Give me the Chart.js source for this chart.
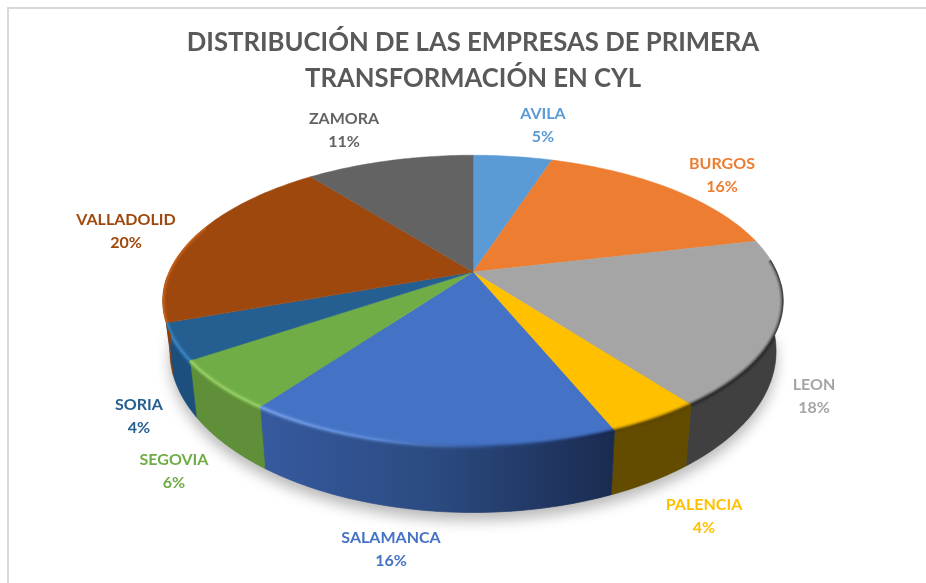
<!DOCTYPE html>
<html>
<head>
<meta charset="utf-8">
<style>
html,body{margin:0;padding:0;background:#fff;overflow:hidden}
#wrap{position:relative;width:926px;height:583px}
#frame{position:absolute;left:7px;top:7px;right:-5px;bottom:-5px;border-left:2px solid #d9d9d9;border-top:2px solid #d9d9d9}
canvas{position:absolute;left:0;top:0}
</style>
<script src="https://cdn.jsdelivr.net/npm/chart.js@4/dist/chart.umd.min.js"></script>
</head>
<body>
<div id="wrap"><div id="frame"></div><canvas id="c" width="926" height="583"></canvas></div>
<script>
const titleLines = ['DISTRIBUCIÓN DE LAS EMPRESAS DE PRIMERA', 'TRANSFORMACIÓN EN CYL'];
const provinces = ['AVILA','BURGOS','LEON','PALENCIA','SALAMANCA','SEGOVIA','SORIA','VALLADOLID','ZAMORA'];
const shares = [5.0,16.3,18.4,4.1,16.2,5.5,4.0,19.9,10.6];
const sliceColors = ['#5B9BD5','#ED7D31','#A5A5A5','#FFC000','#4472C4','#70AD47','#255E91','#9E480E','#636363'];

// Styling and layout of the drawing, separate from the data
const wallStops = [['#3a6a98'],['#8a4a1c'],['#404040'],['#634c00'],['#365a9f','#2b4a80','#1a2b50'],['#5f8f38'],['#1c4f7d'],['#8a3f0c'],['#3a3a3a']];
const rimStops = [['#5B9BD5'],['#ED7D31'],['#262626'],['#5a4500'],['#7ba6ee','#5c8ad8','#2a4a85','#16264a'],['#9bd468'],['#3d8bc9'],['#d4681a'],['#636363']];
const labelAnchors = [[543,114],[722,164],[814,385],[704,505],[391,538],[174,460],[139,405],[126,220],[344,119]];
const LABEL_GAP = 22.5;
const TOP_FACE = {rx:304, a:140, k:0.199, dy:0};
const BOTTOM_FACE = {rx:297, a:155, k:0.199, dy:47};
const WALL_FROM = 95, WALL_TO = 268; // degrees clockwise from the top of the pie

function project(deg, f, o){
  const t = deg*Math.PI/180, c = Math.cos(t), s = Math.sin(t), w = 1/(1+f.k*c);
  return [o.x + f.rx*s*w, o.y + f.dy - f.a*c*w];
}
function samples(a0, a1){
  const out = [], n = Math.max(2, Math.ceil(Math.abs(a1-a0)));
  for(let i=0;i<=n;i++) out.push(a0+(a1-a0)*i/n);
  return out;
}
function hGrad(ctx, x0, x1, stops){
  if(stops.length===1) return stops[0];
  const g = ctx.createLinearGradient(x0,0,x1,0);
  stops.forEach((c,i)=>g.addColorStop(i/(stops.length-1),c));
  return g;
}
function trace(ctx, pts){
  pts.forEach((p,j)=>j?ctx.lineTo(p[0],p[1]):ctx.moveTo(p[0],p[1]));
}

const pie3d = {
  id:'pie3d',
  beforeDatasetsDraw(chart){
    const ctx = chart.ctx, arcs = chart.getDatasetMeta(0).data;
    const o = {x:arcs[0].x, y:arcs[0].y};
    const deg = r => (r + Math.PI/2)*180/Math.PI;

    // soft floor shadow
    ctx.save();
    ctx.shadowColor='rgba(0,0,0,0.28)'; ctx.shadowBlur=14; ctx.shadowOffsetY=8;
    ctx.fillStyle='#888';
    ctx.beginPath();
    samples(WALL_FROM,WALL_TO).forEach((d,i)=>{const p=project(d,BOTTOM_FACE,o); i?ctx.lineTo(p[0],p[1]):ctx.moveTo(p[0],p[1]);});
    ctx.closePath(); ctx.fill();
    ctx.restore();

    // side walls
    arcs.forEach((arc,i)=>{
      const a0=Math.max(deg(arc.startAngle),WALL_FROM), a1=Math.min(deg(arc.endAngle),WALL_TO);
      if(a1<=a0) return;
      const top=samples(a0,a1).map(d=>project(d,TOP_FACE,o));
      const bot=samples(a0,a1).map(d=>project(d,BOTTOM_FACE,o)).reverse();
      const pts=top.concat(bot), xs=pts.map(p=>p[0]);
      ctx.fillStyle=hGrad(ctx,Math.min.apply(null,xs),Math.max.apply(null,xs),wallStops[i]);
      ctx.beginPath(); trace(ctx,pts); ctx.closePath(); ctx.fill();
      ctx.strokeStyle=ctx.fillStyle; ctx.lineWidth=0.6; ctx.stroke();
    });

    // top face: slice angles come straight from the library's arc elements
    arcs.forEach(arc=>{
      ctx.fillStyle=arc.options.backgroundColor;
      ctx.beginPath();
      ctx.moveTo(o.x,o.y);
      trace(ctx,samples(deg(arc.startAngle),deg(arc.endAngle)).map(d=>project(d,TOP_FACE,o)));
      ctx.lineTo(o.x,o.y);
      ctx.closePath(); ctx.fill();
      ctx.strokeStyle=arc.options.backgroundColor; ctx.lineWidth=0.5; ctx.stroke();
    });

    // bevel along the front rim, kept inside the pie's silhouette
    ctx.save();
    ctx.beginPath();
    trace(ctx,samples(0,360).map(d=>project(d,TOP_FACE,o)));
    ctx.closePath();
    trace(ctx,samples(WALL_FROM,WALL_TO).map(d=>project(d,TOP_FACE,o)).concat(samples(WALL_FROM,WALL_TO).map(d=>project(d,BOTTOM_FACE,o)).reverse()));
    ctx.closePath();
    ctx.clip('nonzero');
    arcs.forEach((arc,i)=>{
      const a0=Math.max(deg(arc.startAngle),WALL_FROM-10), a1=Math.min(deg(arc.endAngle),WALL_TO+22);
      if(a1<=a0) return;
      const pts=samples(a0,a1).map(d=>project(d,TOP_FACE,o)), xs=pts.map(p=>p[0]);
      ctx.strokeStyle=hGrad(ctx,Math.min.apply(null,xs),Math.max.apply(null,xs),rimStops[i]);
      ctx.lineCap='butt';
      [[7,0.14],[5,0.22],[3,0.4],[1.5,0.6]].forEach(l=>{
        ctx.globalAlpha=l[1]; ctx.lineWidth=l[0];
        ctx.beginPath(); trace(ctx,pts); ctx.stroke();
      });
    });
    ctx.restore();
    return false;
  },
  afterDraw(chart){
    const ctx=chart.ctx;
    ctx.save();
    ctx.font='bold 16px Lato'; ctx.textAlign='center'; ctx.textBaseline='middle';
    provinces.forEach((name,i)=>{
      ctx.fillStyle=sliceColors[i];
      const a=labelAnchors[i];
      ctx.fillText(name,a[0],a[1]);
      ctx.fillText(Math.round(shares[i])+'%',a[0],a[1]+LABEL_GAP);
    });
    ctx.restore();
  }
};

new Chart(document.getElementById('c'),{
  type:'pie',
  data:{labels:provinces,datasets:[{data:shares,backgroundColor:sliceColors,borderWidth:0}]},
  options:{
    responsive:false,animation:false,events:[],
    layout:{padding:{left:20,right:0,top:0,bottom:139}},
    plugins:{
      legend:{display:false},tooltip:{enabled:false},
      title:{display:true,text:titleLines,color:'#595959',align:'center',
        font:{family:'Lato',size:25.7,weight:'bold',lineHeight:1.42},padding:{top:24,bottom:3}}
    }
  },
  plugins:[pie3d]
});
</script>
</body>
</html>
